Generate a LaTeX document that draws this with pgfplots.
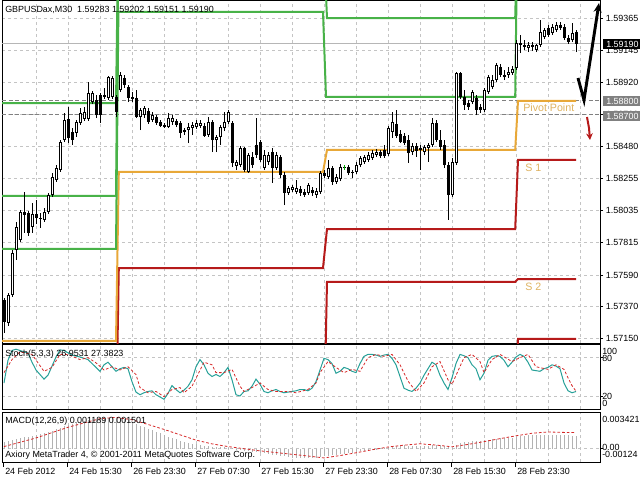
\documentclass[border=0pt]{standalone}
\usepackage{fontspec}
\setmainfont{Liberation Sans}
\usepackage{pgfplots}
\usepackage{pgfplotstable}
\pgfplotsset{compat=1.18}
\usetikzlibrary{arrows.meta}

\definecolor{gridc}{RGB}{196,196,196}
\definecolor{resgreen}{RGB}{72,178,72}
\definecolor{pivorange}{RGB}{232,168,56}
\definecolor{supred}{RGB}{182,26,26}
\definecolor{lvltext}{RGB}{222,178,96}
\definecolor{stochk}{RGB}{38,160,152}
\definecolor{sigred}{RGB}{214,40,40}
\definecolor{histgray}{RGB}{178,178,178}
\definecolor{boxgray}{RGB}{128,128,128}

\newcommand\lab{\fontsize{6.7}{8}\selectfont}

% GBPUSDax M30, one row per bar
\pgfplotstableread{
x o h l c
0 1.57417 1.57431 1.57189 1.57265
1 1.57258 1.57465 1.57237 1.57452
2 1.57452 1.57763 1.57438 1.57742
3 1.57763 1.57957 1.57694 1.57922
4 1.57832 1.58040 1.57818 1.58026
5 1.58026 1.58164 1.57881 1.58005
6 1.58019 1.58033 1.57860 1.57881
7 1.57922 1.58088 1.57881 1.58012
8 1.58012 1.58109 1.57943 1.57984
9 1.57978 1.58019 1.57915 1.57984
10 1.57971 1.58054 1.57957 1.58026
11 1.58026 1.58157 1.58012 1.58144
12 1.58144 1.58296 1.58130 1.58268
13 1.58247 1.58351 1.58234 1.58330
14 1.58317 1.58524 1.58303 1.58510
15 1.58524 1.58711 1.58510 1.58663
16 1.58670 1.58753 1.58503 1.58538
17 1.58580 1.58607 1.58490 1.58524
18 1.58573 1.58663 1.58545 1.58649
19 1.58642 1.58746 1.58628 1.58711
20 1.58670 1.58753 1.58656 1.58718
21 1.58670 1.58926 1.58656 1.58849
22 1.58787 1.58863 1.58773 1.58849
23 1.58801 1.58836 1.58676 1.58697
24 1.58836 1.58849 1.58642 1.58697
25 1.58822 1.58884 1.58808 1.58836
26 1.58815 1.58967 1.58801 1.58960
27 1.58822 1.58967 1.58808 1.58953
28 1.58822 1.58836 1.58683 1.58718
29 1.58870 1.58995 1.58856 1.58974
30 1.58953 1.58974 1.58884 1.58905
31 1.58891 1.58905 1.58787 1.58815
32 1.58822 1.58856 1.58787 1.58808
33 1.58815 1.58870 1.58676 1.58683
34 1.58683 1.58746 1.58593 1.58732
35 1.58697 1.58760 1.58676 1.58746
36 1.58725 1.58746 1.58635 1.58649
37 1.58663 1.58718 1.58649 1.58697
38 1.58683 1.58697 1.58628 1.58642
39 1.58649 1.58663 1.58614 1.58621
40 1.58628 1.58642 1.58607 1.58614
41 1.58614 1.58711 1.58607 1.58676
42 1.58649 1.58697 1.58628 1.58676
43 1.58656 1.58670 1.58614 1.58628
44 1.58642 1.58656 1.58538 1.58573
45 1.58593 1.58607 1.58559 1.58580
46 1.58593 1.58642 1.58503 1.58614
47 1.58607 1.58649 1.58559 1.58628
48 1.58614 1.58663 1.58600 1.58642
49 1.58621 1.58663 1.58607 1.58642
50 1.58621 1.58642 1.58545 1.58552
51 1.58559 1.58683 1.58545 1.58649
52 1.58649 1.58663 1.58441 1.58524
53 1.58524 1.58559 1.58441 1.58545
54 1.58545 1.58628 1.58490 1.58614
55 1.58607 1.58718 1.58586 1.58649
56 1.58649 1.58732 1.58635 1.58718
57 1.58642 1.58656 1.58337 1.58365
58 1.58344 1.58386 1.58317 1.58372
59 1.58351 1.58483 1.58337 1.58469
60 1.58469 1.58476 1.58303 1.58317
61 1.58303 1.58434 1.58296 1.58420
62 1.58407 1.58441 1.58330 1.58351
63 1.58490 1.58676 1.58400 1.58420
64 1.58510 1.58524 1.58372 1.58386
65 1.58330 1.58455 1.58317 1.58420
66 1.58372 1.58441 1.58351 1.58420
67 1.58441 1.58469 1.58227 1.58330
68 1.58330 1.58441 1.58317 1.58420
69 1.58407 1.58420 1.58261 1.58282
70 1.58282 1.58303 1.58074 1.58157
71 1.58157 1.58206 1.58144 1.58192
72 1.58178 1.58213 1.58164 1.58199
73 1.58164 1.58247 1.58151 1.58192
74 1.58185 1.58206 1.58137 1.58157
75 1.58164 1.58185 1.58130 1.58144
76 1.58157 1.58227 1.58144 1.58213
77 1.58178 1.58199 1.58137 1.58157
78 1.58144 1.58192 1.58123 1.58171
79 1.58164 1.58310 1.58151 1.58296
80 1.58296 1.58317 1.58261 1.58275
81 1.58268 1.58386 1.58254 1.58330
82 1.58330 1.58344 1.58213 1.58234
83 1.58234 1.58289 1.58220 1.58268
84 1.58254 1.58358 1.58240 1.58337
85 1.58330 1.58351 1.58317 1.58330
86 1.58337 1.58351 1.58282 1.58296
87 1.58303 1.58317 1.58261 1.58296
88 1.58303 1.58372 1.58289 1.58351
89 1.58351 1.58413 1.58337 1.58400
90 1.58372 1.58420 1.58358 1.58407
91 1.58386 1.58441 1.58372 1.58420
92 1.58400 1.58455 1.58386 1.58434
93 1.58420 1.58462 1.58407 1.58441
94 1.58441 1.58455 1.58400 1.58413
95 1.58455 1.58490 1.58400 1.58413
96 1.58427 1.58621 1.58413 1.58607
97 1.58580 1.58718 1.58538 1.58649
98 1.58635 1.58732 1.58538 1.58552
99 1.58566 1.58593 1.58503 1.58510
100 1.58552 1.58573 1.58490 1.58503
101 1.58524 1.58559 1.58365 1.58434
102 1.58441 1.58503 1.58420 1.58483
103 1.58483 1.58503 1.58407 1.58448
104 1.58455 1.58490 1.58317 1.58469
105 1.58441 1.58490 1.58420 1.58476
106 1.58469 1.58503 1.58372 1.58490
107 1.58490 1.58676 1.58476 1.58642
108 1.58642 1.58663 1.58510 1.58524
109 1.58524 1.58593 1.58455 1.58476
110 1.58490 1.58524 1.58330 1.58351
111 1.58351 1.58372 1.57971 1.58144
112 1.58144 1.58400 1.58130 1.58372
113 1.58365 1.58995 1.58351 1.58988
114 1.58988 1.58995 1.58808 1.58822
115 1.58822 1.58870 1.58732 1.58766
116 1.58780 1.58801 1.58732 1.58753
117 1.58787 1.58870 1.58773 1.58856
118 1.58815 1.58836 1.58697 1.58732
119 1.58753 1.58773 1.58711 1.58732
120 1.58732 1.58884 1.58718 1.58870
121 1.58856 1.58974 1.58843 1.58960
122 1.58891 1.58974 1.58877 1.58939
123 1.58939 1.59057 1.58926 1.59043
124 1.59029 1.59050 1.58960 1.58974
125 1.58974 1.59009 1.58939 1.58960
126 1.58974 1.59029 1.58953 1.58995
127 1.58988 1.59036 1.58974 1.59016
128 1.59022 1.59216 1.59009 1.59195
129 1.59195 1.59251 1.59126 1.59182
130 1.59182 1.59216 1.59147 1.59168
131 1.59161 1.59202 1.59133 1.59182
132 1.59182 1.59202 1.59140 1.59168
133 1.59147 1.59189 1.59133 1.59182
134 1.59182 1.59355 1.59168 1.59272
135 1.59237 1.59299 1.59223 1.59285
136 1.59299 1.59320 1.59237 1.59251
137 1.59265 1.59327 1.59251 1.59306
138 1.59285 1.59341 1.59272 1.59320
139 1.59320 1.59341 1.59285 1.59299
140 1.59306 1.59327 1.59216 1.59230
141 1.59230 1.59251 1.59189 1.59202
142 1.59216 1.59334 1.59202 1.59265
143 1.59272 1.59285 1.59133 1.59190
}\ohlc

% MACD(12,26,9) main line, drawn as histogram
\pgfplotstableread{
x m
0 0.00060
1 0.00068
2 0.00078
3 0.00088
4 0.00098
5 0.00106
6 0.00112
7 0.00120
8 0.00128
9 0.00134
10 0.00142
11 0.00152
12 0.00166
13 0.00180
14 0.00196
15 0.00214
16 0.00222
17 0.00228
18 0.00236
19 0.00246
20 0.00254
21 0.00266
22 0.00274
23 0.00276
24 0.00278
25 0.00280
26 0.00286
27 0.00290
28 0.00284
29 0.00284
30 0.00280
31 0.00270
32 0.00250
33 0.00232
34 0.00216
35 0.00200
36 0.00184
37 0.00170
38 0.00156
39 0.00142
40 0.00124
41 0.00110
42 0.00098
43 0.00086
44 0.00074
45 0.00064
46 0.00056
47 0.00048
48 0.00040
49 0.00034
50 0.00028
51 0.00024
52 0.00020
53 0.00017
54 0.00014
55 0.00012
56 0.00010
57 0.00004
58 -0.00004
59 -0.00010
60 -0.00018
61 -0.00024
62 -0.00030
63 -0.00034
64 -0.00040
65 -0.00044
66 -0.00048
67 -0.00054
68 -0.00058
69 -0.00064
70 -0.00072
71 -0.00078
72 -0.00082
73 -0.00086
74 -0.00088
75 -0.00090
76 -0.00090
77 -0.00090
78 -0.00088
79 -0.00078
80 -0.00072
81 -0.00066
82 -0.00062
83 -0.00056
84 -0.00050
85 -0.00046
86 -0.00042
87 -0.00038
88 -0.00032
89 -0.00026
90 -0.00020
91 -0.00014
92 -0.00008
93 -0.00002
94 0.00002
95 0.00006
96 0.00014
97 0.00022
98 0.00026
99 0.00028
100 0.00030
101 0.00028
102 0.00028
103 0.00026
104 0.00024
105 0.00024
106 0.00024
107 0.00030
108 0.00032
109 0.00030
110 0.00024
111 0.00012
112 0.00010
113 0.00036
114 0.00050
115 0.00058
116 0.00064
117 0.00070
118 0.00072
119 0.00074
120 0.00078
121 0.00084
122 0.00088
123 0.00094
124 0.00096
125 0.00098
126 0.00100
127 0.00102
128 0.00112
129 0.00118
130 0.00122
131 0.00124
132 0.00126
133 0.00126
134 0.00130
135 0.00132
136 0.00132
137 0.00132
138 0.00132
139 0.00130
140 0.00128
141 0.00124
142 0.00122
143 0.00119
}\macd

\pgfplotsset{
  mtpanel/.style={scale only axis, anchor=north west, width=448.5pt,
    xmin=-0.5, xmax=149, axis line style={black, line width=0.6pt},
    xtick={8,16,...,144}, xticklabels={}, xtick style={draw=none},
    xmajorgrids, ymajorgrids,
    grid style={gridc, line width=0.6pt, dash pattern=on 2.25pt off 2.25pt},
    ytick pos=right, yticklabel pos=right, tick align=outside,
    major tick length=2.25pt, ytick style={black, line width=0.6pt},
    tick label style={font=\lab}},
  bars/.style={only marks, mark=*, mark size=0.1pt, mark options={opacity=0}},
}

\begin{document}
\begin{tikzpicture}
\path[use as bounding box] (0,0) rectangle (480pt,-360pt);

% ---- price window ----
\begin{axis}[mtpanel, at={(1.5pt,0pt)}, height=257.25pt,
  ymin=1.57119, ymax=1.59493, scaled y ticks=false,
  ytick={1.57150,1.57370,1.57590,1.57815,1.58035,1.58255,1.58480,1.58700,1.58920,1.59145,1.59365},
  yticklabels={1.57150,1.57370,1.57590,1.57815,1.58035,1.58255,1.58480,1.58700,1.58920,1.59145,1.59365},
  yticklabel style={anchor=west, inner sep=0pt, xshift=2pt}]

% bid line and the two price levels
\addplot[gridc!80!gray, line width=0.6pt] coordinates {(-0.5,1.59190) (149,1.59190)};
\addplot[gray, line width=0.6pt, dash pattern=on 3pt off 2pt] coordinates {(-0.5,1.58800) (149,1.58800)};
\addplot[gray, line width=0.6pt, dash pattern=on 3pt off 2pt] coordinates {(-0.5,1.58700) (149,1.58700)};

% daily pivot levels
\addplot[supred, line width=1.5pt] coordinates {(-0.5,1.5650) (28,1.5650) (28.7,1.57638) (79.75,1.57638) (80.75,1.57908) (127.8,1.57908) (128.5,1.58386) (143,1.58386)};
\addplot[supred, line width=1.5pt] coordinates {(-0.5,1.5620) (79.75,1.5620) (80.75,1.57542) (127.8,1.57542) (128.5,1.57562) (143,1.57562)};
\addplot[supred, line width=1.5pt] coordinates {(-0.5,1.5600) (127.8,1.5600) (128.5,1.57147) (143,1.57147)};
\addplot[pivorange, line width=1.5pt] coordinates {(-0.5,1.57133) (28,1.57133) (28.7,1.58303) (79.75,1.58303) (80.75,1.58455) (127.8,1.58455) (128.5,1.58794) (143,1.58794)};
\addplot[resgreen, line width=1.5pt] coordinates {(-0.5,1.57770) (28,1.57770) (28.6,1.59410) (79.75,1.59410) (80.5,1.58822) (127.8,1.58822) (128.3,1.5990) (143,1.5990)};
\addplot[resgreen, line width=1.5pt] coordinates {(-0.5,1.58137) (28,1.58137) (28.6,1.5990) (79.9,1.5990) (80.75,1.59368) (127.8,1.59368) (128.3,1.5995) (143,1.5995)};
\addplot[resgreen, line width=1.5pt] coordinates {(-0.5,1.58780) (28,1.58780) (28.6,1.6000) (143,1.6000)};

% candles: wicks, bodies, hollow rising bodies
\addplot[bars, error bars/.cd, y dir=plus, y explicit, error mark=none,
  error bar style={black, line width=0.75pt}]
  table[x=x, y=l, y error expr=\thisrow{h}-\thisrow{l}] {\ohlc};
\addplot[bars, error bars/.cd, y dir=plus, y explicit, error mark=none,
  error bar style={black, line width=2.25pt}]
  table[x=x, y expr={min(\thisrow{o},\thisrow{c})}, y error expr={max(abs(\thisrow{c}-\thisrow{o}),0.00007)}] {\ohlc};
\addplot[bars, error bars/.cd, y dir=plus, y explicit, error mark=none,
  error bar style={white, line width=0.75pt}]
  table[x=x, y expr={(\thisrow{c}-\thisrow{o} > 0.00016) ? (\thisrow{o}+0.00007) : nan},
        y error expr={\thisrow{c}-\thisrow{o}-0.00014}] {\ohlc};
% doji in line colour
\addplot[bars, error bars/.cd, y dir=plus, y explicit, error mark=none,
  error bar style={green!70!black, line width=0.75pt}]
  table[x=x, y expr={(abs(\thisrow{c}-\thisrow{o}) < 0.000005) ? \thisrow{l} : nan},
        y error expr=\thisrow{h}-\thisrow{l}] {\ohlc};
\end{axis}

% ---- Stochastic(5,3,3) ----
\begin{axis}[mtpanel, at={(1.5pt,-258pt)}, height=48.75pt,
  ymin=0, ymax=100, ytick={20,80}, yticklabels={}]
\addplot[stochk, line width=0.75pt] coordinates {
(0,40)(1,75)(2,90)(3,92)(5,88)(6,86)(7,72)(8,60)(10,46)(11,52)(12,66)(13,80)(14,91)(15,90)(17,83)(19,80)(21,76)(22,70)(24,58)(25,68)(26,72)(27,65)(28,58)(29,62)(30,64)(31,62)(32,42)(33,26)(34,22)(35,25)(36,27)(37,28)(38,22)(40,15)(41,24)(42,36)(43,30)(44,25)(45,29)(46,35)(47,45)(48,65)(49,76)(50,68)(51,55)(52,50)(53,53)(54,50)(55,56)(56,64)(57,45)(58,22)(59,20)(60,27)(61,28)(62,35)(63,46)(64,38)(65,27)(66,25)(67,28)(68,30)(69,27)(70,25)(71,26)(72,27)(73,28)(74,30)(75,30)(76,28)(77,32)(78,42)(79,60)(80,78)(81,76)(82,70)(83,55)(84,58)(85,64)(86,62)(87,58)(88,56)(89,70)(90,81)(91,84)(92,84)(93,83)(94,81)(95,83)(96,84)(97,78)(98,68)(99,50)(100,32)(101,29)(102,27)(103,32)(104,40)(105,52)(106,62)(107,72)(108,68)(109,52)(110,40)(111,30)(112,48)(113,70)(114,84)(115,82)(116,79)(117,68)(118,62)(119,45)(120,55)(121,75)(122,81)(123,82)(124,81)(125,75)(126,65)(127,72)(128,80)(129,84)(130,81)(131,72)(132,60)(133,59)(134,58)(135,62)(136,64)(137,68)(138,66)(139,62)(140,40)(141,28)(142,25)(143,26.95)};
\addplot[sigred, line width=0.6pt, dash pattern=on 2pt off 1.5pt] coordinates {
(0,56)(2,76)(4,88)(7,84)(10,58)(12,64)(14,84)(16,84)(19,76)(21,79)(23,71)(25,60)(27,65)(29,60)(31,65)(33,53)(34,33)(36,25)(38,27)(40,19)(42,30)(44,33)(45,25)(47,35)(50,72)(52,68)(53,56)(55,56)(57,61)(59,35)(60,27)(62,33)(64,40)(66,30)(68,27)(71,27)(73,25)(76,30)(78,40)(79,56)(81,73)(83,64)(85,56)(87,61)(89,58)(91,79)(93,84)(95,81)(97,84)(99,68)(101,43)(103,27)(105,40)(107,65)(109,73)(111,45)(112,38)(115,79)(117,84)(119,73)(120,56)(122,76)(124,84)(127,73)(129,79)(131,84)(133,65)(136,61)(138,68)(140,61)(141,48)(142,36)(143,27.38)};
\end{axis}

% ---- MACD(12,26,9) ----
\begin{axis}[mtpanel, at={(1.5pt,-309pt)}, height=37.5pt,
  ymin=-0.00124, ymax=0.003421, ytick={0}, yticklabels={}, scaled y ticks=false]
\addplot[ycomb, histgray, line width=0.75pt, mark=none] table[x=x, y=m] {\macd};
\addplot[sigred, line width=0.6pt, dash pattern=on 2pt off 1.5pt] coordinates {
(0,0.00020)(4,0.00060)(8,0.00100)(12,0.00150)(16,0.00200)(20,0.00240)(24,0.00280)(28,0.00292)(32,0.00270)(36,0.00226)(40,0.00180)(44,0.00130)(48,0.00080)(52,0.00045)(56,0.00020)(60,0.00000)(64,-0.00020)(68,-0.00036)(72,-0.00052)(76,-0.00068)(80,-0.00086)(84,-0.00064)(88,-0.00038)(92,-0.00010)(96,0.00016)(100,0.00033)(104,0.00046)(108,0.00034)(112,0.00018)(116,0.00040)(120,0.00066)(124,0.00094)(128,0.00120)(132,0.00144)(136,0.00156)(140,0.00152)(143,0.00150)};
\end{axis}

% ---- texts, labels and drawn objects (pixel grid of the screenshot) ----
\begin{scope}[x=0.75pt, y=-0.75pt, every node/.style={font=\lab, inner sep=0pt}]
\node[anchor=west] at (5,10) {GBPUSDax,M30\ \ 1.59283 1.59202 1.59151 1.59190};
\node[anchor=west] at (5,354) {Stoch(5,3,3) 26.9531 27.3823};
\node[anchor=west] at (5,421) {MACD(12,26,9) 0.001189 0.001501};
\node[anchor=west] at (5,455) {Axiory MetaTrader 4, © 2001-2011 MetaQuotes Software Corp.};

\node[anchor=west] at (602,351) {100};
\node[anchor=west] at (602,358) {80};
\node[anchor=west] at (602,396) {20};
\node[anchor=west] at (602,403) {0};
\node[anchor=west] at (602,419) {0.003421};
\node[anchor=west] at (602,447) {0.00};
\node[anchor=west] at (602,454) {-0.00124};

\fill[black] (603,39) rectangle (640,49);
\node[anchor=west, text=white] at (606,44) {1.59190};
\fill[boxgray] (603,96) rectangle (640,106);
\node[anchor=west, text=white] at (606,101) {1.58800};
\fill[boxgray] (603,111) rectangle (640,121);
\node[anchor=west, text=white] at (606,116) {1.58700};

\node[anchor=west, text=lvltext, font=\fontsize{8}{9}\selectfont] at (523,108) {Pivot Point};
\node[anchor=west, text=lvltext, font=\fontsize{8}{9}\selectfont] at (525,168) {S 1};
\node[anchor=west, text=lvltext, font=\fontsize{8}{9}\selectfont] at (525,287) {S 2};

\foreach \px/\d in {4/24 Feb 2012,68/24 Feb 15:30,132/26 Feb 23:30,196/27 Feb 07:30,260/27 Feb 15:30,324/27 Feb 23:30,388/28 Feb 07:30,452/28 Feb 15:30,516/28 Feb 23:30}{
  \draw[black, line width=0.6pt] (\px-1,462) -- (\px-1,467);
  \node[anchor=west] at (\px+1,471) {\d};
}

\draw[black, line width=2.2pt, -{Stealth[length=7pt, width=6pt]}] (578,78) -- (584,100) -- (599,3);
\draw[supred, line width=1.5pt, -{Stealth[length=5pt, width=5pt]}] (587,117) -- (589,128) -- (590,140);
\end{scope}
\end{tikzpicture}
\end{document}
